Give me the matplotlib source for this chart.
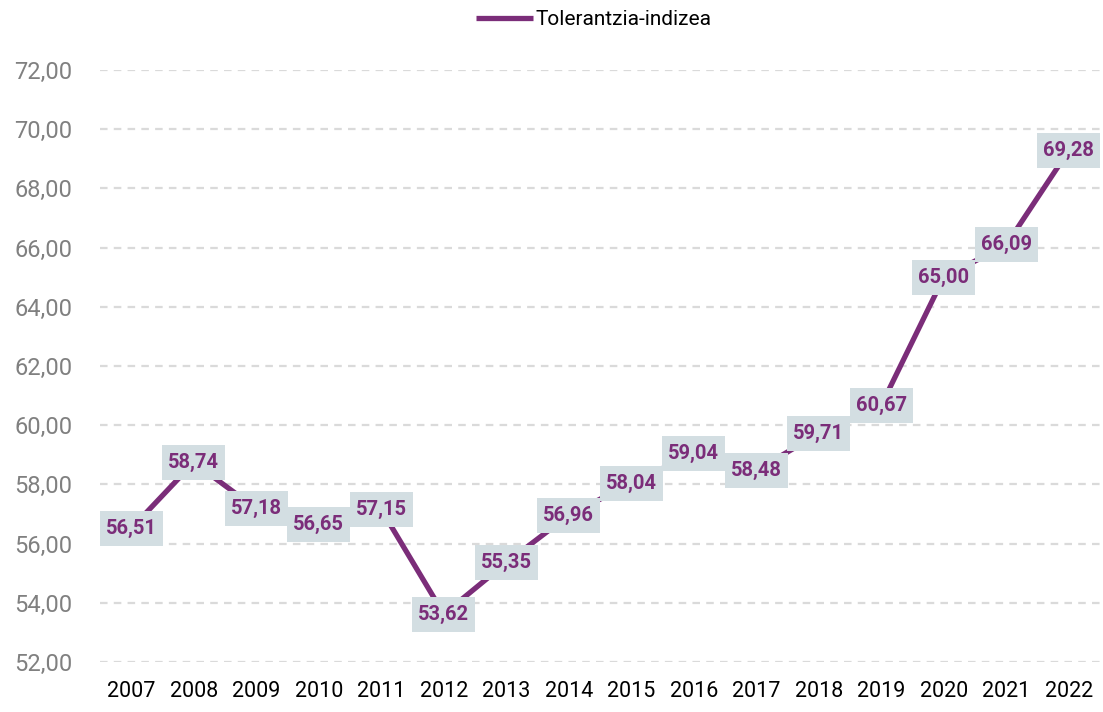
import matplotlib.pyplot as plt
from matplotlib.patches import Rectangle
from matplotlib.transforms import ScaledTranslation

years = ["2007", "2008", "2009", "2010", "2011", "2012", "2013", "2014",
         "2015", "2016", "2017", "2018", "2019", "2020", "2021", "2022"]
index_values = [56.51, 58.74, 57.18, 56.65, 57.15, 53.62, 55.35, 56.96,
                58.04, 59.04, 58.48, 59.71, 60.67, 65.00, 66.09, 69.28]
y_ticks = [52, 54, 56, 58, 60, 62, 64, 66, 68, 70, 72]

plt.rcParams['font.family'] = ['Roboto', 'DejaVu Sans']

purple = "#7b2d79"
box_color = "#d3dee2"
fig = plt.figure(figsize=(11.03, 7.12), dpi=100)
ax = fig.add_axes([100 / 1103, 50 / 712, 1000 / 1103, 592 / 712])

x = list(range(len(years)))
ax.plot(x, index_values, color=purple, lw=3.8, solid_capstyle="butt",
        label="Tolerantzia-indizea", zorder=2, clip_on=False)

# value labels on fixed-size boxes centred on each point
for xi, v in zip(x, index_values):
    tr = fig.dpi_scale_trans + ScaledTranslation(xi, v, ax.transData)
    ax.add_patch(Rectangle((-0.315, -0.175), 0.63, 0.35, transform=tr,
                           fc=box_color, ec="none", zorder=3, clip_on=False))
    ax.text(xi, v, f"{v:.2f}".replace(".", ","), ha="center", va="center",
            fontsize=14.5, fontweight="bold", color=purple, zorder=4,
            clip_on=False)

ax.set_xlim(-0.5, len(years) - 0.5)
ax.set_ylim(52, 72)
ax.set_yticks(y_ticks)
ax.set_yticklabels([f"{t:.2f}".replace(".", ",") for t in y_ticks],
                   fontsize=17, color="#808080")
ax.set_xticks(x)
ax.set_xticklabels(years, fontsize=15.5, color="black")
ax.tick_params(axis="x", length=0, pad=14)
ax.tick_params(axis="y", length=0, pad=20)

ax.grid(axis="y", color="#dadada", lw=1.6, linestyle=(0, (3.4, 2.8)), zorder=0)
ax.grid(axis="x", visible=False)
for s in ax.spines.values():
    s.set_visible(False)

ax.legend(loc="center", bbox_to_anchor=(0.494, 1.085), frameon=False,
          fontsize=15, handlelength=2.7, handletextpad=0.15)

fig.savefig("out.png", dpi=100)
